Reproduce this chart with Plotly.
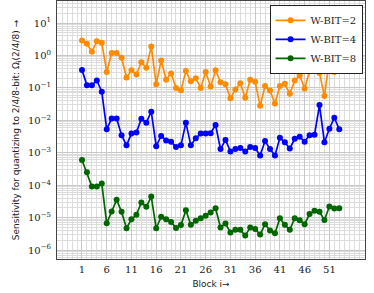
import plotly.graph_objects as go

blocks = list(range(1, 54))

wbit2 = [2.9, 2.3, 1.3, 2.75, 2.45, 0.31, 1.2, 1.2, 0.85, 0.21,
         0.35, 0.26, 0.62, 0.42, 1.9, 0.13, 0.70, 0.18, 0.28, 0.10,
         0.085, 0.33, 0.16, 0.20, 0.10, 0.31, 0.11, 0.35, 0.15, 0.13,
         0.048, 0.09, 0.14, 0.05, 0.18, 0.155, 0.028, 0.114, 0.083, 0.033,
         0.114, 0.134, 0.066, 0.17, 0.24, 0.096, 0.33, 0.64, 0.29, 0.056,
         0.72, 0.31, 0.95]

wbit4 = [0.36, 0.12, 0.12, 0.17, 0.076, 0.0053, 0.0115, 0.0115, 0.0035, 0.0017,
         0.0039, 0.0042, 0.0112, 0.0085, 0.0185, 0.0016, 0.0033, 0.0024, 0.0022, 0.0015,
         0.0017, 0.0085, 0.0017, 0.0028, 0.0039, 0.0039, 0.0040, 0.0072, 0.0013, 0.0025,
         0.0011, 0.0013, 0.0014, 0.0011, 0.0015, 0.0014, 0.00083, 0.0023, 0.0013, 0.00083,
         0.0029, 0.0021, 0.00135, 0.0027, 0.0031, 0.0022, 0.0035, 0.0036, 0.0295, 0.0021,
         0.0055, 0.012, 0.0053]

wbit8 = [6.0e-4, 2.5e-4, 9.1e-5, 9.1e-5, 1.12e-4, 6.7e-6, 1.55e-5, 3.55e-5, 1.51e-5, 4.7e-6,
         8.9e-6, 1.22e-5, 2.94e-5, 2.15e-5, 4.47e-5, 4.7e-6, 1.06e-5, 8.9e-6, 7.4e-6, 4.8e-6,
         5.9e-6, 1.7e-5, 6.0e-6, 8.0e-6, 9.6e-6, 1.14e-5, 1.45e-5, 1.96e-5, 5.0e-6, 6.6e-6,
         3.5e-6, 4.2e-6, 4.2e-6, 2.8e-6, 5.0e-6, 4.5e-6, 3.0e-6, 6.3e-6, 4.0e-6, 3.3e-6,
         9.6e-6, 6.0e-6, 4.2e-6, 9.6e-6, 8.3e-6, 6.3e-6, 1.29e-5, 1.62e-5, 1.51e-5, 8.5e-6,
         2.2e-5, 1.9e-5, 1.96e-5]

series_names = ["W-BIT=2", "W-BIT=4", "W-BIT=8"]
series_colors = ["#ff8c00", "#0000ff", "#006600"]

x_tickvals = list(range(1, 54, 5))
y_exps = [-6, -5, -4, -3, -2, -1, 0, 1]
y_tickvals = [10.0 ** e for e in y_exps]
y_ticktext = ["10<sup>%s</sup>" % (str(e).replace("-", "\u2212")) for e in y_exps]
y_minor = [m * 10.0 ** e for e in range(-7, 2) for m in range(2, 10)]

fig = go.Figure()
for name, vals, col in zip(series_names, [wbit2, wbit4, wbit8], series_colors):
    fig.add_trace(go.Scatter(
        x=blocks, y=vals, mode="lines+markers", name=name,
        line=dict(color=col, width=1.7),
        marker=dict(color=col, size=6, symbol="circle"),
    ))

axis_font = dict(family="DejaVu Serif", size=10, color="#222")
fig.update_layout(
    width=374, height=293,
    margin=dict(l=57, r=9, t=1, b=34),
    paper_bgcolor="white", plot_bgcolor="white",
    showlegend=True,
    legend=dict(
        x=0.992, y=0.985, xanchor="right", yanchor="top",
        bgcolor="white", bordercolor="#222", borderwidth=1,
        font=dict(family="DejaVu Serif", size=10, color="#222"),
        tracegroupgap=0, itemwidth=30,
    ),
    xaxis=dict(
        range=[-4.05, 58.2], tickvals=x_tickvals, tickfont=axis_font,
        showline=True, mirror=True, linecolor="#444", linewidth=1,
        showgrid=True, gridcolor="#c8c8c8", gridwidth=1,
        minor=dict(dtick=1, tick0=0, showgrid=True, gridcolor="#dcdcdc", gridwidth=1),
        ticks="", ticklen=0, ticklabelstandoff=1, zeroline=False,
        title=dict(text="Block i\u2192", font=dict(family="DejaVu Sans", size=9, color="#222"), standoff=6),
    ),
    yaxis=dict(
        type="log", range=[-6.275, 1.68],
        tickvals=y_tickvals, ticktext=y_ticktext, tickfont=axis_font,
        showline=True, mirror=True, linecolor="#444", linewidth=1,
        showgrid=True, gridcolor="#c8c8c8", gridwidth=1,
        minor=dict(tickvals=y_minor, showgrid=True, gridcolor="#dcdcdc", gridwidth=1),
        ticks="", ticklen=0, ticklabelstandoff=3, zeroline=False,
        title=dict(text="Sensitivity for quantizing to 2/4/8-bit: \u03a9<sub>i</sub>(2/4/8) \u2192",
                   font=dict(family="DejaVu Sans", size=9, color="#222"), standoff=6),
    ),
)

fig.write_html("out.html", config={"displayModeBar": False},
               post_script="document.body.style.margin='0px';document.body.style.padding='0px';")
